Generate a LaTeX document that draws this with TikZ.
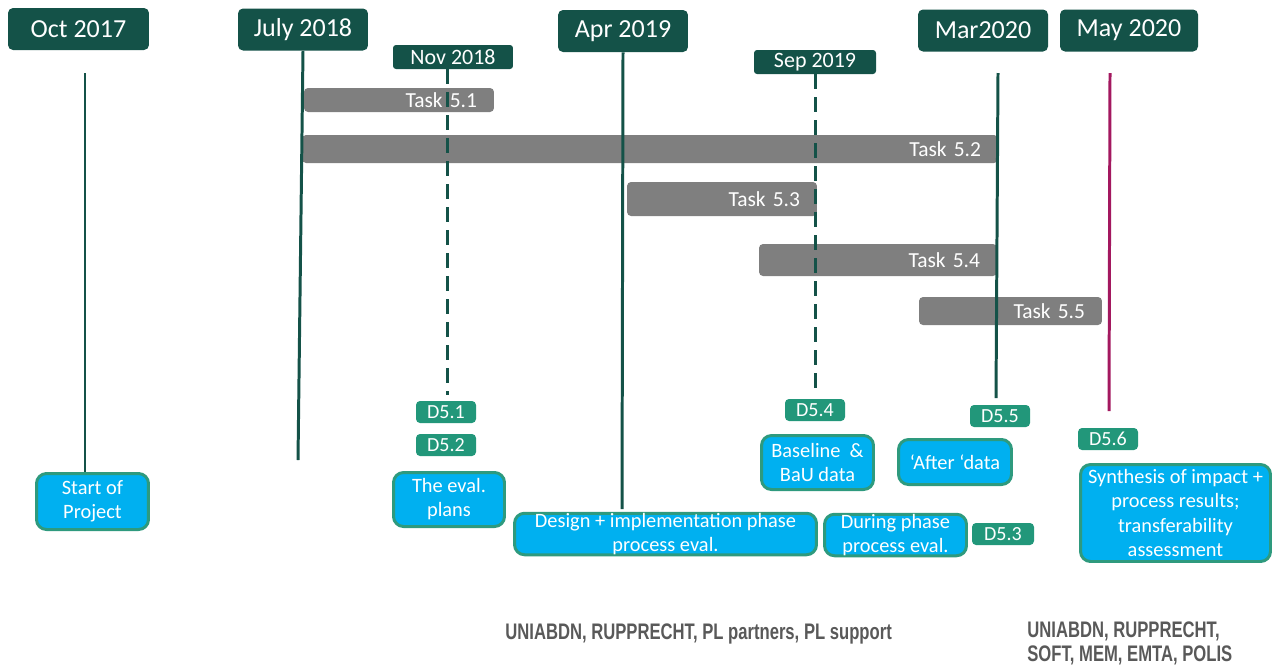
\documentclass[tikz,border=0pt]{standalone}
\usepackage{fontspec}
\setmainfont{Carlito}
\newfontfamily\partnerfont[FakeStretch=0.74]{Liberation Sans}
\usetikzlibrary{positioning}

\definecolor{darkteal}{HTML}{145248}
\definecolor{taskgray}{HTML}{7F7F7F}
\definecolor{delgreen}{HTML}{22977A}
\definecolor{boxblue}{HTML}{00B0F0}
\definecolor{boxedge}{HTML}{2E9A7E}
\definecolor{maylilac}{HTML}{A3185F}
\definecolor{partnergray}{HTML}{595959}

\tikzset{
	datebox/.style={fill=darkteal, rounded corners=0.1cm, text=white, inner sep=0pt,
		minimum height=0.84cm, font=\fontsize{14.8}{17}\selectfont},
	smalldate/.style={datebox, minimum height=0.48cm, rounded corners=0.06cm,
		font=\fontsize{12.5}{14}\selectfont},
	taskbar/.style={fill=taskgray, rounded corners=0.08cm, text=white, align=right,
		inner xsep=0.34cm, inner ysep=0pt, font=\fontsize{12.2}{14}\selectfont},
	delbox/.style={fill=delgreen, rounded corners=0.08cm, text=white, inner sep=0pt,
		minimum width=1.2cm, minimum height=0.44cm, font=\fontsize{11.4}{13}\selectfont},
	infobox/.style={fill=boxblue, draw=boxedge, line width=1.7pt, rounded corners=0.2cm,
		text=white, align=center, inner sep=0pt, font=\fontsize{11.6}{13.7}\selectfont},
	timeline/.style={draw=darkteal, line width=1.7pt},
	partners/.style={text=partnergray, inner sep=0pt, align=left,
		font=\partnerfont\bfseries\fontsize{12.8}{13.7}\selectfont}
}

\begin{document}
\begin{tikzpicture}[x=0.02cm,y=-0.02cm]
	\useasboundingbox (0,0) rectangle (1277,667);
	%date boxes
	\node[datebox, minimum width=2.82cm] (oct) at (78.5,29) {Oct 2017};
	\node[datebox, minimum width=2.6cm] (july) at (303,29.5) {July 2018};
	\node[smalldate, minimum width=2.4cm] (nov) at (453,57) {Nov 2018};
	\node[datebox, minimum width=2.6cm] (apr) at (623,31) {Apr 2019};
	\node[smalldate, minimum width=2.44cm] (sep) at (815,62) {Sep 2019};
	\node[datebox, minimum width=2.6cm] (mar) at (983,30.5) {Mar2020};
	\node[datebox, minimum width=2.76cm] (may) at (1129,30.5) {May 2020};

	%task bars
	\node[taskbar, text width=3.12cm, minimum height=0.48cm] (t1) at (399,100) {Task 5.1};
	\node[taskbar, text width=13.24cm, minimum height=0.56cm] (t2) at (650,149) {Task 5.2};
	\node[taskbar, text width=3.12cm, minimum height=0.68cm] (t3) at (722,199) {Task 5.3};
	\node[taskbar, text width=4.08cm, minimum height=0.64cm] (t4) at (878,260) {Task 5.4};
	\node[taskbar, text width=2.98cm, minimum height=0.56cm] (t5) at (1010.5,311) {Task 5.5};

	%deliverables
	\node[delbox] (d51) at (446,412) {D5.1};
	\node[delbox] (d52) at (446,445) {D5.2};
	\node[delbox] (d54) at (815,410) {D5.4};
	\node[delbox] (d55) at (1000,416) {D5.5};
	\node[delbox] (d56) at (1108,439) {D5.6};
	\node[delbox, minimum width=1.24cm] (d53) at (1003,534) {D5.3};

	%outputs
	\node[infobox, minimum width=2.24cm, minimum height=1.12cm] (start) at (92.5,501.5) {Start of\\Project};
	\node[infobox, minimum width=2.22cm, minimum height=1.08cm] (plans) at (449,499.5) {The eval.\\plans};
	\node[infobox, minimum width=6.04cm, minimum height=0.82cm] (design) at (665.5,534) {Design + implementation phase\\process eval.};
	\node[infobox, minimum width=2.24cm, minimum height=1.08cm] (base) at (817.5,462.5) {Baseline\ \ \&\\BaU data};
	\node[infobox, minimum width=2.26cm, minimum height=0.9cm] (after) at (955,462) {‘After ‘data};
	\node[infobox, minimum width=2.84cm, minimum height=0.82cm] (during) at (895.5,535) {During phase\\process eval.};
	\node[infobox, minimum width=3.8cm, minimum height=1.94cm] (synth) at (1175.5,513) {Synthesis of impact +\\process results;\\transferability\\assessment};

	%time lines
	\coordinate (oct top) at (85,73);
	\coordinate (july end) at (298,460);
	\coordinate (nov end) at (447,395);
	\coordinate (apr end) at (622,509);
	\coordinate (sep end) at (815,388);
	\coordinate (mar top) at (998,73);
	\coordinate (mar end) at (996,398);
	\coordinate (may top) at (1110,73);
	\coordinate (may end) at (1109,411);
	\draw[timeline] (oct top) -- (oct top |- start.north);
	\draw[timeline] (july.south) -- (july end);
	\draw[timeline, dash pattern=on 0.3cm off 0.16cm] (nov.south -| nov end) -- (nov end);
	\draw[timeline] (apr.south) -- (apr end);
	\draw[timeline, dash pattern=on 0.3cm off 0.16cm] (sep.south) -- (sep end);
	\draw[timeline] (mar top) -- (mar end);
	\draw[timeline, draw=maylilac] (may top) -- (may end);

	%partners
	\node[partners, anchor=north west] (pl) at (505,623) {UNIABDN, RUPPRECHT, PL partners, PL support};
	\node[partners, anchor=north west] (eu) at (1027,621) {UNIABDN, RUPPRECHT,\\SOFT, MEM, EMTA, POLIS};
\end{tikzpicture}
\end{document}
